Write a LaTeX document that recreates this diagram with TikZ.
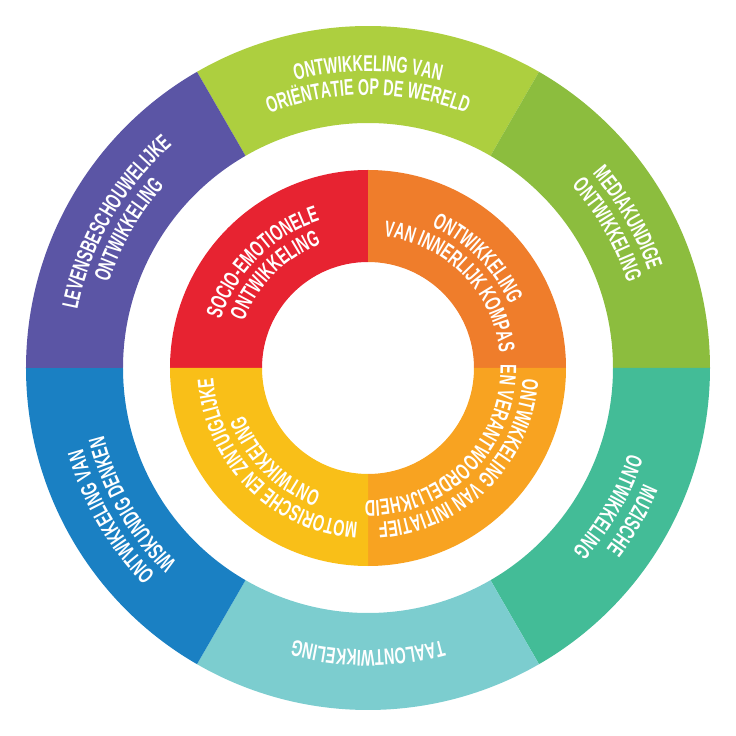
\documentclass[tikz,border=0pt]{standalone}
\usepackage{fontspec}
\usepackage{tikz}
\usetikzlibrary{decorations.text}
\newfontfamily\bandfont{Liberation Sans}[FakeStretch=0.63]
\definecolor{outer1}{RGB}{173,207,63}
\definecolor{outer2}{RGB}{140,189,62}
\definecolor{outer3}{RGB}{67,188,151}
\definecolor{outer4}{RGB}{124,205,207}
\definecolor{outer5}{RGB}{26,128,195}
\definecolor{outer6}{RGB}{91,85,165}
\definecolor{inner1}{RGB}{231,35,49}
\definecolor{inner2}{RGB}{239,125,43}
\definecolor{inner3}{RGB}{248,163,33}
\definecolor{inner4}{RGB}{249,191,24}
\newcommand{\ringfont}{\bandfont\bfseries\fontsize{16.2}{18}\selectfont}
\newcommand{\fillband}[5]{\fill[#1] ({#2}:#4) arc[start angle={#2},end angle={#3},radius=#4] -- ({#3}:#5) arc[start angle={#3},end angle={#2},radius=#5] -- cycle;}
\newcommand{\bandtext}[3]{\path[decorate,decoration={text along path,text align=center,text color=white,text={|\ringfont|#3}}] ({#1+70}:#2) arc[start angle={#1+70},end angle={#1-70},radius=#2];}

\begin{document}
\begin{tikzpicture}[x=0.025cm,y=0.025cm]
\useasboundingbox (-368,-368) rectangle (368,368);
\foreach \c/\a in {outer1/60,outer2/0,outer3/-60,outer4/-120,outer5/180,outer6/120}{
  \fillband{\c}{\a}{\a+60}{342}{245}
}
\foreach \c/\a in {inner1/90,inner2/0,inner3/-90,inner4/180}{
  \fillband{\c}{\a}{\a+90}{198}{106}
}
\bandtext{90}{296.5}{ONTWIKKELING VAN}
\bandtext{90}{273}{ORIËNTATIE OP DE WERELD}
\bandtext{30}{296.5}{MEDIAKUNDIGE}
\bandtext{30}{273}{ONTWIKKELING}
\bandtext{-30}{299}{MUZISCHE}
\bandtext{-30}{274}{ONTWIKKELING}
\bandtext{-90}{282}{TAALONTWIKKELING}
\bandtext{-150}{296.5}{ONTWIKKELING VAN}
\bandtext{-150}{273}{WISKUNDIG DENKEN}
\bandtext{150}{296.5}{LEVENSBESCHOUWELIJKE}
\bandtext{150}{273}{ONTWIKKELING}
\bandtext{135}{155}{SOCIO-EMOTIONELE}
\bandtext{135}{132.5}{ONTWIKKELING}
\bandtext{45}{155}{ONTWIKKELING}
\bandtext{45}{132.5}{VAN INNERLIJK KOMPAS}
\bandtext{-45}{155}{ONTWIKKELING VAN INITIATIEF}
\bandtext{-45}{132.5}{EN VERANTWOORDELIJKHEID}
\bandtext{-135}{155}{MOTORISCHE EN ZINTUIGLIJKE}
\bandtext{-135}{132.5}{ONTWIKKELING}
\end{tikzpicture}
\end{document}
